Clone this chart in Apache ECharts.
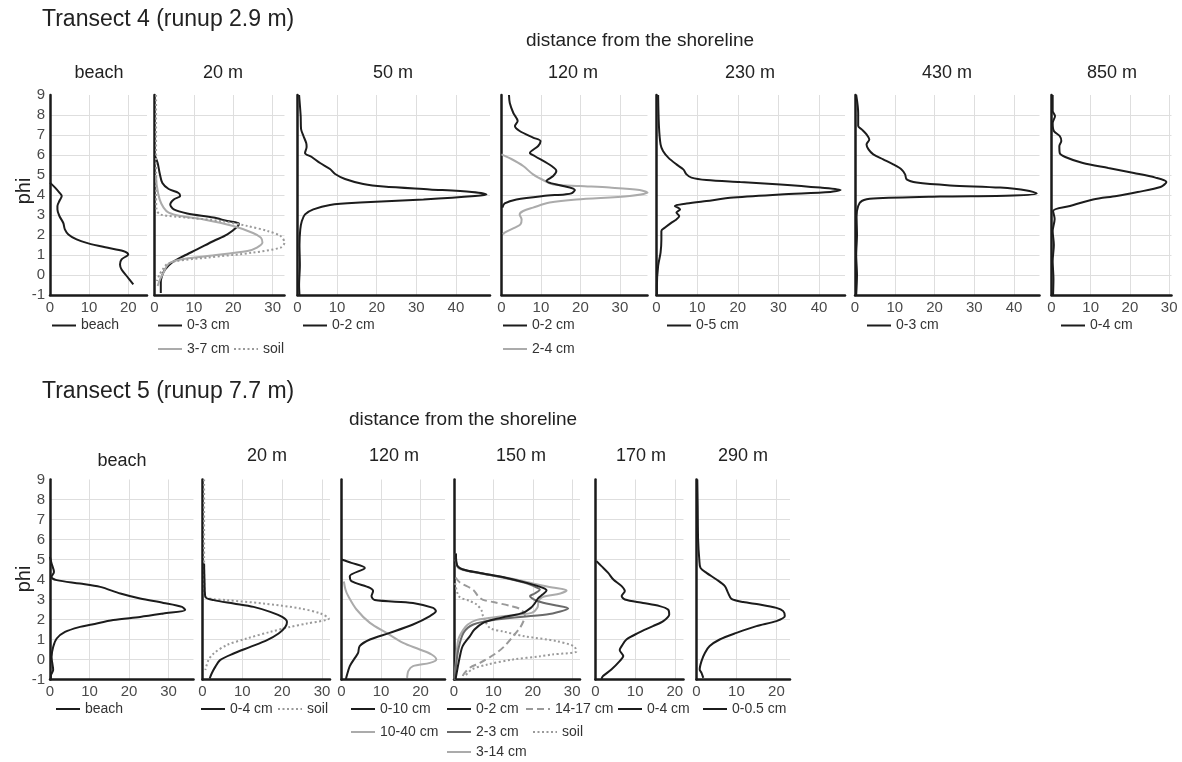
<!DOCTYPE html>
<html>
<head>
<meta charset="utf-8">
<title>Grain size curves - transects 4 and 5</title>
<script src="https://cdn.jsdelivr.net/npm/echarts@6.0.0/dist/echarts.min.js"></script>
<style>
  html, body { margin: 0; padding: 0; background: #fff; }
  #chart { width: 1182px; height: 762px; }
</style>
</head>
<body>
<div id="chart"></div>
<script>
// panel titles (distance from the shoreline)
const titlesT4 = ['beach', '20 m', '50 m', '120 m', '230 m', '430 m', '850 m'];
const titlesT5 = ['beach', '20 m', '120 m', '150 m', '170 m', '290 m'];
const phiMin = -1;
const phiMax = 9;

// ---- Transect 4 ----
// beach
const t4BeachPhi = [4.62, 4.37, 4.12, 3.95, 3.7, 3.45, 3.28, 2.95, 2.6, 2.28, 2.03, 1.78, 1.58, 1.37, 1.2, 1.03, 0.78, 0.53, 0.28, -0.05, -0.47];
const t4BeachPct = [0, 1.3, 2.4, 3.0, 2.4, 1.9, 1.9, 2.4, 3.4, 3.8, 4.7, 6.8, 9.8, 14.5, 18.7, 20, 18.3, 17.9, 18.3, 19.6, 21.3];
// 20 m
const t4m20aPhi = [6.0, 5.6, 5.1, 4.6, 4.3, 4.1, 3.95, 3.78, 3.53, 3.28, 3.08, 2.87, 2.7, 2.58, 2.45, 2.03, 1.7, 1.28, 0.95, 0.62, 0.28, -0.05, -0.38, -0.9];
const t4m20aPct = [0, 0.8, 1.3, 2.0, 3.6, 6.1, 6.5, 4.9, 4.0, 4.9, 8.3, 15, 18.5, 21.4, 21.2, 18.5, 15, 10.8, 7.4, 4.4, 2.7, 1.9, 1.6, 1.6];
const t4m20bPhi = [5.0, 4.45, 3.78, 3.37, 3.12, 2.95, 2.78, 2.45, 2.1, 1.87, 1.62, 1.37, 1.2, 0.95, 0.78, 0.62, 0.45, 0.12, -0.22, -0.55];
const t4m20bPct = [0.4, 0.6, 1.3, 2.3, 3.6, 6.6, 12.5, 20, 25, 27, 27.4, 26, 23.6, 13.4, 6.6, 4.0, 3.1, 2.3, 1.4, 0.8];
const t4m20sPhi = [9, 7, 5, 4, 3.3, 3.03, 2.87, 2.7, 2.45, 2.2, 1.95, 1.62, 1.37, 1.12, 0.87, 0.7, 0.53, 0.28, 0.03, -0.3];
const t4m20sPct = [0.4, 0.4, 0.4, 0.4, 0.5, 1.4, 8.3, 16.8, 23.6, 28.7, 32, 33, 32, 25, 13.4, 5.7, 3.1, 2.1, 1.3, 0.6];
// 50 m
const t4m50Phi = [9, 7.95, 7.3, 6.95, 6.6, 6.4, 6.1, 5.9, 5.6, 5.3, 5.05, 4.8, 4.55, 4.42, 4.28, 4.15, 4.03, 3.95, 3.78, 3.62, 3.5, 3.28, 3.03, 2.7, 2.28, 1.5, 0.5, -0.5, -1];
const t4m50Pct = [0.4, 0.8, 0.9, 1.5, 2.2, 2.3, 1.9, 3.6, 5.7, 8.2, 9.5, 12, 16.6, 21.7, 33.4, 44, 47.7, 44.8, 31.8, 15.8, 8.2, 4, 1.9, 1.1, 0.7, 0.5, 0.6, 0.4, 0.5];
// 120 m
const t4m120aPhi = [9, 8.6, 8.1, 7.7, 7.45, 7.2, 6.87, 6.7, 6.45, 6.1, 5.95, 5.45, 5.2, 4.95, 4.7, 4.58, 4.45, 4.25, 4.08, 4.03, 3.95, 3.78, 3.58, 3.37];
const t4m120aPct = [1.9, 2.1, 3.0, 4.1, 3.4, 4.6, 8.0, 9.9, 9.3, 7.2, 8.4, 12.7, 13.9, 13.1, 11.4, 12.7, 15.6, 18.6, 17.7, 16, 10.5, 3.8, 0.8, 0.2];
const t4m120bPhi = [6.03, 5.8, 5.45, 5.03, 4.7, 4.53, 4.45, 4.37, 4.25, 4.12, 3.95, 3.78, 3.62, 3.37, 3.2, 3.03, 2.78, 2.53, 2.37, 2.12, 2.03];
const t4m120bPct = [0, 2.5, 5.5, 8.0, 11, 13.1, 19.8, 27.4, 35, 37, 32.5, 19, 12.2, 8, 5.5, 4.6, 5.1, 4.8, 3.4, 0.8, 0.4];
// 230 m
const t4m230Phi = [9, 7.45, 6.53, 6.2, 5.87, 5.53, 5.28, 5.03, 4.87, 4.75, 4.65, 4.53, 4.37, 4.25, 4.15, 4.03, 3.87, 3.7, 3.57, 3.45, 3.28, 3.12, 2.95, 2.78, 2.62, 2.37, 2.2, 1.78, 1.12, 0.45, -0.55, -1];
const t4m230Pct = [0.4, 0.6, 1.0, 1.6, 2.9, 4.9, 6.6, 7.4, 8.6, 12.3, 20.6, 30.5, 40.3, 45.3, 42.8, 30.5, 18.9, 12.3, 7.4, 4.5, 5.8, 4.9, 5.6, 4.9, 3.7, 2.1, 1.2, 1.2, 1.0, 0.4, 0.1, 0.1];
// 430 m
const t4m430Phi = [9, 8.1, 7.45, 7.28, 7.03, 6.78, 6.53, 6.28, 6.03, 5.78, 5.53, 5.28, 5.03, 4.78, 4.62, 4.48, 4.37, 4.23, 4.08, 3.98, 3.92, 3.82, 3.7, 3.45, 2.95, 2, 1, 0, -1];
const t4m430Pct = [0.3, 0.8, 0.8, 1.7, 2.9, 3.6, 2.9, 3.4, 4.6, 7.1, 9.6, 11.7, 12.6, 13, 15.5, 23.9, 36.5, 43.2, 45.7, 39.8, 21.4, 4.6, 1.7, 0.8, 0.4, 0.5, 0.3, 0.5, 0.3];
// 850 m
const t4m850Phi = [9, 8.2, 7.95, 7.6, 7.2, 6.95, 6.7, 6.45, 6.1, 5.9, 5.6, 5.35, 5.1, 4.87, 4.65, 4.4, 4.15, 3.95, 3.78, 3.45, 3.2, 2.8, 2.2, 1.5, 0.7, -0.2, -1];
const t4m850Pct = [0.3, 0.3, 0.9, 0.3, 0.6, 2.1, 2.5, 2.0, 2.1, 3.5, 8.0, 14.5, 21, 26.5, 29.3, 27.8, 22, 16.6, 10.6, 4.7, 0.4, 0.8, 0.3, 0.6, 0.3, 0.5, 0.4];

// ---- Transect 5 ----
// beach
const t5BeachPhi = [5.13, 4.8, 4.38, 4.13, 3.97, 3.8, 3.63, 3.3, 3.05, 2.83, 2.63, 2.47, 2.3, 2.13, 1.97, 1.75, 1.63, 1.38, 1.05, 0.63, 0.13, -0.53, -0.75, -1];
const t5BeachPct = [0, 0.4, 1.0, 0.4, 1.7, 7.6, 12.7, 17.8, 22.8, 28.7, 33.4, 34.2, 28.7, 22.8, 16, 10.6, 7.6, 3.8, 1.7, 0.8, 0.4, 0.8, 0.3, 0.2];
// 20 m
const t5m20aPhi = [4.8, 3.97, 3.13, 2.97, 2.8, 2.63, 2.38, 2.13, 1.88, 1.63, 1.3, 0.97, 0.63, 0.3, -0.03, -0.37, -0.7, -0.95];
const t5m20aPct = [0.4, 0.5, 0.7, 2.8, 7.8, 12.8, 17, 20, 21.2, 20.8, 19.1, 16.2, 12, 7.8, 4.4, 3.2, 2.3, 1.8];
const t5m20sPhi = [9, 7, 5, 3.5, 3.1, 2.97, 2.8, 2.55, 2.3, 2.05, 1.8, 1.63, 1.38, 1.05, 0.72, 0.3, -0.03, -0.53];
const t5m20sPct = [0.4, 0.4, 0.4, 0.5, 1.0, 6.1, 15.3, 24.6, 29.6, 31.7, 26.2, 22, 17, 11.1, 6.1, 2.8, 1.5, 0.7];
// 120 m
const t5m120aPhi = [5.0, 4.83, 4.58, 4.17, 3.92, 3.58, 3.42, 3.17, 2.97, 2.83, 2.58, 2.42, 2.17, 1.75, 1.33, 1.0, 0.67, 0.33, 0.08, -0.33, -0.83, -1];
const t5m120aPct = [0, 2.5, 5.9, 2.1, 2.5, 7.2, 8.0, 7.6, 8.4, 18.1, 23.2, 23.9, 22.4, 18.1, 12.2, 7.2, 4.6, 4.2, 3.4, 2.1, 1.3, 1.1];
const t5m120bPhi = [3.9, 3.5, 3.17, 2.5, 1.83, 1.33, 0.83, 0.5, 0.25, 0.0, -0.17, -0.33, -0.58, -0.92];
const t5m120bPct = [0.6, 1.0, 1.7, 3.8, 7.2, 11.4, 15.6, 19.8, 22.8, 24, 22.4, 18.1, 16.9, 16.6];
// 150 m
const t5m150aPhi = [5.3, 4.7, 4.5, 4.33, 4.08, 3.83, 3.58, 3.45, 3.25, 3.07, 2.8, 2.58, 2.33, 2.15, 2.0, 1.83, 1.5, 1.16, 0.67, 0.16, -0.65, -1];
const t5m150aPct = [0.5, 0.8, 2.3, 6.6, 13.4, 18.5, 22.6, 23.5, 22.5, 21.4, 20.5, 19.5, 17.5, 13.4, 10, 7.4, 5.2, 4.0, 2.2, 1.5, 0.7, 0.4];
const t5m150bPhi = [5.3, 4.7, 4.5, 4.33, 4.08, 3.83, 3.6, 3.5, 3.3, 3.17, 2.9, 2.7, 2.55, 2.4, 2.25, 2.0, 1.75, 1.33, 0.5, -0.67, -1];
const t5m150bPct = [0.4, 0.8, 2.3, 6.3, 13, 18, 21, 21.8, 20.5, 19.3, 21.5, 26, 29, 27, 23.5, 10.8, 4.9, 2.4, 1.1, 0.3, 0.2];
const t5m150cPhi = [5.0, 4.6, 4.45, 4.3, 4.05, 3.8, 3.6, 3.45, 3.3, 3.12, 2.92, 2.6, 2.33, 2.15, 1.98, 1.75, 1.5, 1.0, -0.33, -1];
const t5m150cPct = [0.4, 1.0, 2.8, 7.5, 14.5, 20, 25, 28.6, 27, 22.5, 21.5, 21.2, 19.7, 11.8, 5.8, 3.5, 2.4, 1.1, 0.4, 0.2];
const t5m150dPhi = [4.1, 3.85, 3.48, 3.15, 2.98, 2.87, 2.67, 2.5, 2.2, 1.99, 1.6, 1.16, 0.7, 0.33, -0.17, -0.4, -0.75, -1];
const t5m150dPct = [0.4, 1.5, 4.9, 6.2, 7.4, 10, 14.5, 17, 18, 17.8, 16.8, 15, 13, 10.8, 6.6, 4.1, 2.4, 2.0];
const t5m150sPhi = [3.82, 3.15, 2.92, 2.74, 2.45, 2.15, 1.58, 1.4, 1.16, 0.92, 0.66, 0.41, 0.25, 0.16, 0.0, -0.25, -0.5, -0.84];
const t5m150sPct = [0.3, 1.3, 4.1, 5.8, 7.0, 7.4, 9.1, 12.5, 18, 26, 30.5, 31.1, 25, 21.8, 15, 8.5, 4.5, 2.8];
// 170 m
const t5m170Phi = [4.92, 4.67, 4.33, 4.0, 3.67, 3.42, 3.17, 3.0, 2.83, 2.67, 2.5, 2.25, 1.92, 1.67, 1.33, 1.0, 0.67, 0.47, 0.17, -0.08, -0.5, -0.83, -0.97];
const t5m170Pct = [0.25, 1.5, 3.2, 4.5, 6.6, 7.4, 6.6, 7.4, 12, 16.2, 18.3, 18.6, 17.1, 14.5, 10.8, 7.8, 6.6, 6.1, 7.0, 6.1, 4.0, 1.9, 1.5];
// 290 m
const t5m290Phi = [9, 7.67, 6, 5.0, 4.58, 4.33, 4.0, 3.67, 3.33, 3.03, 2.87, 2.75, 2.58, 2.42, 2.17, 1.92, 1.67, 1.33, 1.0, 0.67, 0.33, -0.08, -0.5, -0.67, -0.92];
const t5m290Pct = [0.2, 0.3, 0.4, 0.7, 1.0, 2.5, 5.0, 7.1, 7.9, 8.75, 11.7, 15.8, 20, 21.7, 22.1, 20, 15, 10, 5.8, 3.3, 2.1, 1.25, 0.8, 1.25, 1.7];

const FONT = '"Liberation Sans", Arial, Helvetica, sans-serif';

// line looks
const black = { color: '#1c1c1c', width: 2, type: 'solid' };
const light = { color: '#ababab', width: 2, type: 'solid' };
const mid = { color: '#6a6a6a', width: 2, type: 'solid' };
const dashed = { color: '#9a9a9a', width: 2, type: [7, 4] };
const dotted = { color: '#9a9a9a', width: 2, type: [2, 2.5] };

// panel boxes (x range of each panel in pixels and its % axis max)
const boxesT4 = [
  { left: 50, width: 97, max: 24.8 },
  { left: 154.5, width: 130, max: 33 },
  { left: 297.5, width: 192.5, max: 48.6 },
  { left: 501.5, width: 146, max: 37 },
  { left: 656.5, width: 188.5, max: 46.4 },
  { left: 855, width: 184.5, max: 46.4 },
  { left: 1051.5, width: 120, max: 30.6 }
];
const boxesT5 = [
  { left: 50, width: 143.5, max: 36.3 },
  { left: 202.5, width: 127.5, max: 32 },
  { left: 341.5, width: 103.5, max: 26.2 },
  { left: 454, width: 126, max: 32 },
  { left: 595.5, width: 88, max: 22.2 },
  { left: 696.5, width: 93.5, max: 23.4 }
];
const rowTop = [95, 479.5];
const rowHeight = 200;

// panel index: T4 0..6, T5 7..12
const curves = [
  { p: 0, id: 'beach|a', phi: t4BeachPhi, pct: t4BeachPct, st: black },
  { p: 1, id: '0-3 cm|a', phi: t4m20aPhi, pct: t4m20aPct, st: black },
  { p: 1, id: '3-7 cm|a', phi: t4m20bPhi, pct: t4m20bPct, st: light },
  { p: 1, id: 'soil|a', phi: t4m20sPhi, pct: t4m20sPct, st: dotted },
  { p: 2, id: '0-2 cm|a', phi: t4m50Phi, pct: t4m50Pct, st: black },
  { p: 3, id: '2-4 cm|a', phi: t4m120bPhi, pct: t4m120bPct, st: light },
  { p: 3, id: '0-2 cm|b', phi: t4m120aPhi, pct: t4m120aPct, st: black },
  { p: 4, id: '0-5 cm|a', phi: t4m230Phi, pct: t4m230Pct, st: black },
  { p: 5, id: '0-3 cm|b', phi: t4m430Phi, pct: t4m430Pct, st: black },
  { p: 6, id: '0-4 cm|a', phi: t4m850Phi, pct: t4m850Pct, st: black },
  { p: 7, id: 'beach|b', phi: t5BeachPhi, pct: t5BeachPct, st: black },
  { p: 8, id: 'soil|b', phi: t5m20sPhi, pct: t5m20sPct, st: dotted },
  { p: 8, id: '0-4 cm|b', phi: t5m20aPhi, pct: t5m20aPct, st: black },
  { p: 9, id: '10-40 cm|a', phi: t5m120bPhi, pct: t5m120bPct, st: light },
  { p: 9, id: '0-10 cm|a', phi: t5m120aPhi, pct: t5m120aPct, st: black },
  { p: 10, id: 'soil|c', phi: t5m150sPhi, pct: t5m150sPct, st: dotted },
  { p: 10, id: '14-17 cm|a', phi: t5m150dPhi, pct: t5m150dPct, st: dashed },
  { p: 10, id: '3-14 cm|a', phi: t5m150cPhi, pct: t5m150cPct, st: light },
  { p: 10, id: '2-3 cm|a', phi: t5m150bPhi, pct: t5m150bPct, st: mid },
  { p: 10, id: '0-2 cm|c', phi: t5m150aPhi, pct: t5m150aPct, st: black },
  { p: 11, id: '0-4 cm|c', phi: t5m170Phi, pct: t5m170Pct, st: black },
  { p: 12, id: '0-0.5 cm|a', phi: t5m290Phi, pct: t5m290Pct, st: black }
];

// legend placement: icon left edge, row centre
const legendSpots = [
  ['beach|a', 51, 326.5], ['0-3 cm|a', 157, 326.5], ['3-7 cm|a', 157, 350], ['soil|a', 233, 350],
  ['0-2 cm|a', 302, 326.5], ['0-2 cm|b', 502, 326.5], ['2-4 cm|a', 502, 350],
  ['0-5 cm|a', 666, 326.5], ['0-3 cm|b', 866, 326.5], ['0-4 cm|a', 1060, 326.5],
  ['beach|b', 55, 710], ['0-4 cm|b', 200, 710], ['soil|b', 277, 710],
  ['0-10 cm|a', 350, 710], ['10-40 cm|a', 350, 733],
  ['0-2 cm|c', 446, 710], ['14-17 cm|a', 525, 710], ['2-3 cm|a', 446, 733], ['soil|c', 532, 733],
  ['3-14 cm|a', 446, 753], ['0-4 cm|c', 617, 710], ['0-0.5 cm|a', 702, 710]
];

const boxes = boxesT4.map(b => Object.assign({ top: rowTop[0] }, b))
  .concat(boxesT5.map(b => Object.assign({ top: rowTop[1] }, b)));

const grid = boxes.map(b => ({ left: b.left, top: b.top, width: b.width, height: rowHeight }));

const xAxis = boxes.map((b, i) => ({
  gridIndex: i,
  type: 'value',
  min: 0,
  max: b.max,
  interval: 10,
  axisLine: { show: true, onZero: false, lineStyle: { color: '#1a1a1a', width: 2.5 } },
  axisTick: { show: false },
  axisLabel: { showMaxLabel: false, color: '#4a4a4a', fontSize: 15, fontFamily: FONT, margin: 5 },
  splitLine: { show: true, showMinLine: false, showMaxLine: false, lineStyle: { color: '#dedede', width: 1 } }
}));

const yAxis = boxes.map((b, i) => ({
  gridIndex: i,
  type: 'value',
  min: phiMin,
  max: phiMax,
  interval: 1,
  axisLine: { show: true, onZero: false, lineStyle: { color: '#1a1a1a', width: 2.5 } },
  axisTick: { show: false },
  axisLabel: { show: i === 0 || i === 7, color: '#4a4a4a', fontSize: 15, fontFamily: FONT, margin: 5 },
  splitLine: { show: true, showMinLine: false, showMaxLine: false, lineStyle: { color: '#dedede', width: 1 } }
}));

const series = curves.map(c => ({
  name: c.id,
  type: 'line',
  xAxisIndex: c.p,
  yAxisIndex: c.p,
  data: c.phi.map((v, k) => [c.pct[k], v]),
  symbol: 'none',
  smooth: 0.3,
  silent: true,
  lineStyle: { color: c.st.color, width: c.st.width, type: c.st.type },
  itemStyle: { color: c.st.color }
}));

// one small legend per entry, line only (no marker)
const legend = legendSpots.map(s => ({
  data: [s[0]],
  left: s[1],
  top: s[2] - 8,
  padding: 0,
  itemWidth: 24,
  itemHeight: 10,
  selectedMode: false,
  formatter: name => name.split('|')[0],
  itemStyle: { color: 'rgba(0,0,0,0)', borderWidth: 0, opacity: 0 },
  textStyle: { color: '#333', fontSize: 14, fontFamily: FONT }
}));

function label(text, x, y, size, align) {
  return {
    type: 'text', x: x, y: y, silent: true,
    style: { text: text, fontSize: size, fontFamily: FONT, fill: '#222', align: align || 'center', verticalAlign: 'middle' }
  };
}

const centresT4 = [99, 223, 393, 573, 750, 947, 1112];
const centresT5 = [122, 267, 394, 521, 641, 743];
const graphic = [
  label('Transect 4 (runup 2.9 m)', 42, 20, 23, 'left'),
  label('distance from the shoreline', 640, 41, 19),
  label('Transect 5 (runup 7.7 m)', 42, 392, 23, 'left'),
  label('distance from the shoreline', 463, 420, 19)
];
titlesT4.forEach((t, i) => graphic.push(label(t, centresT4[i], 73, 18)));
titlesT5.forEach((t, i) => graphic.push(label(t, centresT5[i], i === 0 ? 461 : 456, 18)));
graphic.push(Object.assign(label('phi', 24, 191, 20), { rotation: Math.PI / 2 }));
graphic.push(Object.assign(label('phi', 24, 579, 20), { rotation: Math.PI / 2 }));

const chart = echarts.init(document.getElementById('chart'), null, { renderer: 'canvas' });
chart.setOption({
  backgroundColor: '#ffffff',
  animation: false,
  grid: grid,
  xAxis: xAxis,
  yAxis: yAxis,
  legend: legend,
  graphic: graphic,
  series: series
});
</script>
</body>
</html>
